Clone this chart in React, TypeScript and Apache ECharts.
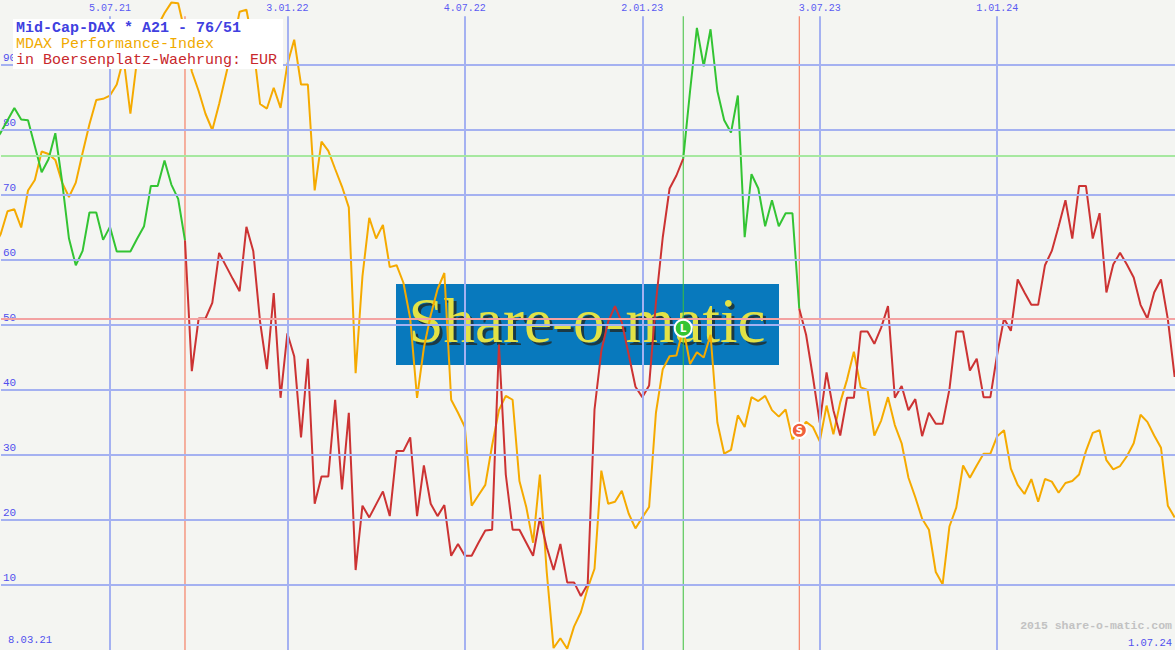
import React, { useEffect, useRef } from "react";
import * as echarts from "echarts";

// ---- data (weekly, Mondays, first week 8.03.21) ----
const FIRST_WEEK = "8.03.21";
const LAST_WEEK = "1.07.24";

// Mid-Cap-DAX indicator (A21 - 76/51)
const indicator: number[] = [
  78, 79.6, 81.5, 83.4, 81.6, 81.5, 77.5, 73.5, 75.5, 79.5,
  72, 63.3, 59.2, 61.4, 67.3, 67.3, 63.1, 65.1, 61.3, 61.3,
  61.3, 63.3, 65.2, 71.4, 71.4, 75.3, 71.6, 69.4, 63, 42.9,
  51, 51, 53.4, 61.1, 59.1, 57.1, 55.2, 65.1, 61.4, 50.5,
  43.2, 54.9, 38.8, 48.7, 45.2, 32.7, 44.8, 22.5, 26.7, 26.7,
  38.5, 24.7, 36.5, 12.3, 22.2, 20.4, 22.4, 24.4, 20.6, 30.6,
  30.6, 32.7, 20.6, 28.4, 22.5, 20.6, 22.3, 14.5, 16.3, 14.5,
  14.5, 16.5, 18.4, 18.5, 47, 27, 18.5, 18.5, 16.5, 14.5,
  20.3, 15.8, 12.3, 16.3, 10.4, 10.4, 8.3, 10.1, 37, 46,
  50.5, 52.9, 50.4, 45.5, 40.5, 38.9, 40.7, 53.5, 63.5, 71,
  73, 75.6, 86, 95.7, 89.8, 95.5, 86, 81.5, 79.6, 85.3,
  63.5, 73.2, 71, 65.2, 69.2, 65.2, 67.2, 67.2, 52.5, 48.5,
  42, 35, 42.7, 36.9, 33, 38.8, 38.8, 49, 49, 47.1,
  49.6, 52.9, 38.8, 40.6, 36.9, 38.6, 32.9, 36.5, 34.8, 34.8,
  40.1, 49, 49, 43, 44.8, 38.9, 38.9, 45.5, 51, 49.1,
  57, 55, 53.1, 53.1, 59.2, 61.4, 65.2, 69.2, 63.3, 71.4,
  71.4, 63.3, 67.2, 55, 59.3, 61.1, 59.3, 57.3, 53.1, 51,
  55, 57, 50.9, 42,
];

// MDAX Performance-Index (scaled 0..100)
const mdax: number[] = [
  62, 64, 67.5, 67.8, 65, 70.7, 72.3, 76.7, 76.3, 75.4,
  71.9, 69.7, 71.9, 76.5, 80.9, 84.6, 84.8, 85.3, 87, 91,
  82.5, 91, 96, 95, 96, 98, 99.6, 99.5, 95, 89,
  86, 82.5, 80, 84, 88.5, 93, 98.2, 98.5, 93, 84,
  83.3, 86.5, 83.4, 90.1, 93.9, 87, 87, 70.7, 78.2, 76.8,
  74, 71.3, 68.1, 42.6, 57.5, 66.5, 63.3, 65.4, 58.9, 59.2,
  56.5, 51, 38.8, 46.5, 51.5, 55.5, 58, 38.5, 36.5, 34.3,
  22.2, 23.8, 25.4, 31.5, 36.9, 39.1, 38.5, 26, 22, 16.5,
  27, 12, 0.3, 1.8, 0.2, 3.6, 5.8, 9.5, 12.5, 27.6,
  22.5, 22.8, 24.5, 21, 18.7, 20.4, 22, 36.5, 43.2, 45.2,
  45.3, 49.5, 44, 45.8, 45, 48.5, 35, 30.2, 30.8, 36.1,
  34.3, 38.9, 38.3, 39.1, 36.9, 35.9, 37, 32.4, 33.8, 35.1,
  34.3, 32.1, 37.6, 33.2, 38.1, 41.6, 45.9, 40.4, 40, 33,
  35.3, 38.9, 34.6, 31.8, 26.5, 23.5, 20.2, 18.5, 12, 10.1,
  19, 21.9, 28.4, 26.5, 28.4, 30.2, 30.2, 32.9, 33.8, 27.9,
  25.4, 24, 26.3, 22.8, 26.3, 25.9, 24.2, 25.7, 26, 27,
  30.6, 33.4, 33.8, 29.2, 27.8, 28.3, 29.8, 31.8, 36.2, 35.1,
  33, 31.1, 22.2, 20.4,
];

const tickLabels = ["5.07.21", "3.01.22", "4.07.22", "2.01.23", "3.07.23", "1.01.24"];
const signalDates = ["20.09.21", "13.02.23", "12.06.23"];
const signalTypes = ["S", "L", "S"];
const upperThreshold = 76;
const lowerThreshold = 51;
const yTicks = [10, 20, 30, 40, 50, 60, 70, 80, 90];

const titleLines = [
  "Mid-Cap-DAX * A21 - 76/51",
  "MDAX Performance-Index",
  "in Boersenplatz-Waehrung: EUR",
];

// ---- helpers ----
const WEEK = 7 * 86400000;
const parseD = (s: string) => {
  const [d, m, y] = s.split(".").map(Number);
  return Date.UTC(2000 + y, m - 1, d);
};
const START = parseD(FIRST_WEEK);
const weekTime = (i: number) => START + i * WEEK;
const weekIndex = (s: string) => Math.round((parseD(s) - START) / WEEK);

const GREEN = "#33c433";
const RED = "#cc3333";
const ORANGE = "#f5aa00";
const GRIDC = "#a4b1f1";
const MONO = "'Liberation Mono', 'DejaVu Sans Mono', monospace";
const SERIF = "'Liberation Serif', 'DejaVu Serif', serif";
const LINE_TOP = 97.5;

export default function App() {
  const ref = useRef<HTMLDivElement>(null);

  useEffect(() => {
    if (!ref.current) return;
    const chart = echarts.init(ref.current, undefined, { renderer: "svg" });

    const sigIdx = signalDates.map(weekIndex);
    // colour segments of the indicator: green before first signal (long state)
    const bounds = [0, ...sigIdx, indicator.length - 1];
    const segStates = ["L", ...signalTypes];
    const indicatorSeries: any[] = [];
    for (let k = 0; k < bounds.length - 1; k++) {
      const a = bounds[k];
      const b = bounds[k + 1];
      const data: any[] = [];
      for (let i = a; i <= b; i++) data.push([weekTime(i), indicator[i]]);
      indicatorSeries.push({
        type: "line",
        data,
        symbol: "none",
        z: 4,
        lineStyle: { color: segStates[k] === "L" ? GREEN : RED, width: 2 },
        silent: true,
      });
    }

    // signal vertical lines as small line series
    const signalSeries = sigIdx.map((idx, k) => ({
      type: "line",
      data: [
        [weekTime(idx), 0],
        [weekTime(idx), LINE_TOP],
      ],
      symbol: "none",
      z: 2,
      silent: true,
      lineStyle: { color: signalTypes[k] === "L" ? "#3cbf3c" : "#f56a4a", width: 1 },
    }));

    const mdaxData = mdax.map((v, i) => [weekTime(i), v]);

    const vLine = (x: number, name: string) => [
      { name, coord: [x, 0] },
      { coord: [x, LINE_TOP] },
    ];

    const helper = (z: number, color: string, width: number, data: any[], label: any) => ({
      type: "line",
      data: [],
      z,
      silent: true,
      markLine: {
        silent: true,
        animation: false,
        symbol: ["none", "none"],
        lineStyle: { color, width, type: "solid", opacity: 1 },
        label,
        emphasis: { disabled: true },
        data,
      },
    });

    const noLabel = { show: false };

    const option: any = {
      animation: false,
      backgroundColor: "#f4f5f2",
      grid: { left: 0, right: 0, top: 0, bottom: 0 },
      xAxis: {
        type: "time",
        show: false,
        min: START + WEEK * 1.042,
        max: START + WEEK * 173.05,
      },
      yAxis: {
        type: "value",
        min: 0,
        max: 100,
        interval: 10,
        axisLine: { show: false },
        axisTick: { show: false },
        splitLine: { show: false },
        axisLabel: {
          inside: true,
          margin: 2,
          color: "#5050ee",
          fontFamily: MONO,
          fontSize: 11,
          verticalAlign: "bottom",
          padding: [0, 0, 2, 0],
          formatter: (v: number) => (yTicks.includes(v) ? String(v) : ""),
        },
      },
      series: [
        // horizontal grid lines
        helper(1, GRIDC, 2, yTicks.map((v) => ({ yAxis: v })), noLabel),
        // vertical date grid lines with labels on top
        helper(
          1,
          GRIDC,
          2,
          tickLabels.map((t) => vLine(parseD(t), t)),
          {
            show: true,
            position: "end",
            distance: 3,
            formatter: "{b}",
            color: "#5a5af2",
            fontFamily: MONO,
            fontSize: 10,
          }
        ),
        // thresholds
        helper(2, "#a6e8a0", 2, [{ yAxis: upperThreshold }], noLabel),
        helper(2, "#f3a2a2", 2, [{ yAxis: lowerThreshold }], noLabel),
        ...signalSeries,
        {
          type: "line",
          data: mdaxData,
          symbol: "none",
          z: 3,
          silent: true,
          lineStyle: { color: ORANGE, width: 2 },
          markPoint: {
            silent: true,
            animation: false,
            data: sigIdx.map((idx, k) => ({
              coord: [weekTime(idx), mdax[idx]],
              symbol: "circle",
              symbolSize: signalTypes[k] === "L" ? 17 : 15,
              itemStyle: {
                color: signalTypes[k] === "L" ? "#33c433" : "#f0603c",
                borderColor: "#ffffff",
                borderWidth: 2,
              },
              label: {
                show: true,
                position: "inside",
                formatter: signalTypes[k],
                color: "#ffffff",
                fontSize: 10,
                fontWeight: "bold",
                fontFamily: "DejaVu Sans",
              },
            })),
          },
        },
        ...indicatorSeries,
      ],
      graphic: [
        // watermark (below grid)
        {
          type: "group",
          z: -5,
          silent: true,
          children: [
            {
              type: "rect",
              z: -5,
              shape: { x: 396, y: 284, width: 383, height: 81 },
              style: { fill: "#0879bd" },
            },
            {
              type: "text",
              z: -4,
              style: {
                text: "Share-o-matic",
                x: 590,
                y: 324,
                textAlign: "center",
                textVerticalAlign: "middle",
                fontFamily: SERIF,
                fontSize: 63,
                fill: "#1c3a44",
              },
            },
            {
              type: "text",
              z: -3,
              style: {
                text: "Share-o-matic",
                x: 587,
                y: 321,
                textAlign: "center",
                textVerticalAlign: "middle",
                fontFamily: SERIF,
                fontSize: 63,
                fill: "#e2e246",
              },
            },
          ],
        },
        // title box
        {
          type: "group",
          z: 100,
          silent: true,
          children: [
            {
              type: "rect",
              z: 100,
              shape: { x: 13, y: 19, width: 270, height: 50 },
              style: { fill: "#ffffff" },
            },
            ...titleLines.map((t, k) => ({
              type: "text",
              z: 101,
              style: {
                text: t,
                x: 16,
                y: 28 + k * 16,
                textVerticalAlign: "middle",
                fontFamily: MONO,
                fontSize: 15,
                fontWeight: k === 0 ? "bold" : "normal",
                fill: k === 0 ? "#4040e0" : k === 1 ? "#f0aa00" : "#c8282c",
              },
            })),
          ],
        },
        {
          type: "text",
          z: 50,
          silent: true,
          style: {
            text: FIRST_WEEK,
            x: 8,
            y: 640,
            textVerticalAlign: "middle",
            fontFamily: MONO,
            fontSize: 10.5,
            fill: "#5050ee",
          },
        },
        {
          type: "text",
          z: 50,
          silent: true,
          style: {
            text: LAST_WEEK,
            x: 1172,
            y: 643,
            textAlign: "right",
            textVerticalAlign: "middle",
            fontFamily: MONO,
            fontSize: 10.5,
            fill: "#5050ee",
          },
        },
        {
          type: "text",
          z: 50,
          silent: true,
          style: {
            text: "2015 share-o-matic.com",
            x: 1172,
            y: 625,
            textAlign: "right",
            textVerticalAlign: "middle",
            fontFamily: MONO,
            fontSize: 11.5,
            fontWeight: "bold",
            fill: "#c2c2c2",
          },
        },
      ],
    };

    chart.setOption(option);
    return () => chart.dispose();
  }, []);

  return (
    <div
      ref={ref}
      style={{ position: "fixed", left: 0, top: 0, width: 1175, height: 650 }}
    />
  );
}
